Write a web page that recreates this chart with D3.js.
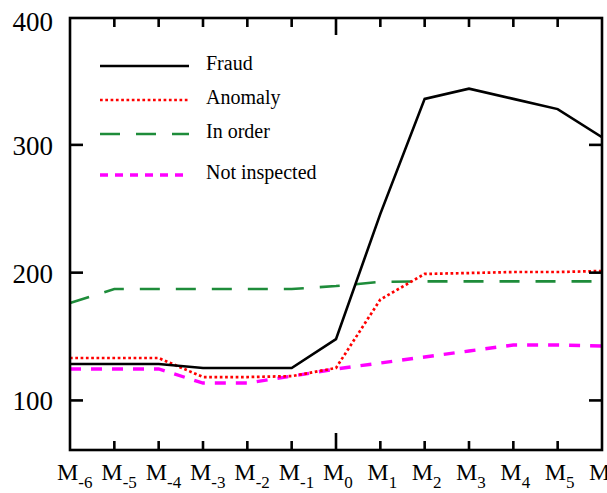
<!DOCTYPE html>
<html>
<head>
<meta charset="utf-8">
<script src="https://cdn.jsdelivr.net/npm/d3@7"></script>
<style>
  html, body { margin: 0; padding: 0; background: #fff; }
  svg { display: block; }
  text { font-family: "Liberation Serif", "Times New Roman", serif; fill: #000; }
</style>
</head>
<body>
<svg id="chart" width="607" height="493"></svg>
<script>
// ---- data ----
const monthSubs = ["-6", "-5", "-4", "-3", "-2", "-1", "0", "1", "2", "3", "4", "5", "6"];
const yTicks = [100, 200, 300, 400];
const seriesNames = ["Fraud", "Anomaly", "In order", "Not inspected"];
const fraud        = [128.5, 128.5, 128.5, 125.4, 125.4, 125.4, 148.0, 246.0, 336.0, 344.0, 336.0, 328.0, 306.0];
const anomaly      = [133.2, 133.2, 133.2, 118.3, 118.3, 119.0, 125.4, 179.0, 199.0, 199.7, 200.5, 200.5, 201.3];
const inOrder      = [176.2, 187.2, 187.2, 187.2, 187.2, 187.2, 189.5, 192.8, 193.2, 193.2, 193.2, 193.2, 193.2];
const notInspected = [124.6, 124.6, 124.6, 113.6, 113.6, 119.0, 124.6, 129.3, 134.0, 138.7, 143.4, 143.4, 142.6];

// ---- layout ----
const svg = d3.select("#chart");
const L = 70, R = 602, T = 18, B = 450;

const x = d3.scaleLinear().domain([0, monthSubs.length - 1]).range([L, R]);
const y = d3.scaleLinear().domain([61.2, 399.3]).range([B, T]);

const styles = [
  { key: "Fraud", data: fraud, color: "#000000", width: 2.6, dash: null, legDash: null },
  { key: "Anomaly", data: anomaly, color: "#ff0000", width: 2.7, dash: "2.7 2.6", legDash: "2.7 2.6" },
  { key: "In order", data: inOrder, color: "#1e8c3a", width: 2.6, dash: "20 16", legDash: "20 16" },
  { key: "Not inspected", data: notInspected, color: "#ff00ff", width: 3.4, dash: "11 10", legDash: "8 7" }
];

// clip
svg.append("defs").append("clipPath").attr("id", "plotclip")
  .append("rect").attr("x", L - 3).attr("y", T).attr("width", R - L + 3).attr("height", B - T);

// series lines
const line = d3.line().x((d, i) => x(i)).y(d => y(d));
const g = svg.append("g").attr("clip-path", "url(#plotclip)");
// draw in order: green, magenta, red, black on top
[2, 3, 1, 0].forEach(k => {
  const s = styles[k];
  g.append("path")
    .datum(s.data)
    .attr("d", line)
    .attr("fill", "none")
    .attr("stroke", s.color)
    .attr("stroke-width", s.width)
    .attr("stroke-dasharray", s.dash)
    .attr("stroke-linejoin", "miter");
});

// frame
const frame = svg.append("g").attr("stroke", "#000").attr("stroke-width", 2.6).attr("fill", "none");
frame.append("rect").attr("x", L).attr("y", T).attr("width", R - L).attr("height", B - T);

// x ticks (bottom + top mirrored, pointing inward)
const xt = d3.range(1, monthSubs.length - 1);
xt.forEach(i => {
  const len = monthSubs[i] === "0" ? 17 : 9;
  frame.append("line").attr("x1", x(i)).attr("x2", x(i)).attr("y1", B).attr("y2", B - len);
  frame.append("line").attr("x1", x(i)).attr("x2", x(i)).attr("y1", T).attr("y2", T + len);
});
// y ticks (left + right mirrored, pointing inward)
yTicks.filter(v => v < 399).forEach(v => {
  frame.append("line").attr("x1", L).attr("x2", L + 13).attr("y1", y(v)).attr("y2", y(v));
  frame.append("line").attr("x1", R).attr("x2", R - 13).attr("y1", y(v)).attr("y2", y(v));
});

// y tick labels
svg.append("g").selectAll("text").data(yTicks).join("text")
  .attr("x", 53).attr("y", d => Math.max(y(d), 21) + 10)
  .attr("text-anchor", "end")
  .attr("font-size", 27)
  .text(d => d);

// x tick labels: M with subscript
const xl = svg.append("g").selectAll("text").data(monthSubs).join("text")
  .attr("x", (d, i) => x(i) - 13)
  .attr("y", 480)
  .attr("font-size", 24);
xl.append("tspan").text("M");
xl.append("tspan").attr("dy", 8).attr("font-size", 17).text(d => d);

// legend
const legY = [66, 100, 134, 175];
const leg = svg.append("g");
styles.forEach((s, k) => {
  leg.append("line")
    .attr("x1", 100).attr("x2", 189)
    .attr("y1", legY[k]).attr("y2", legY[k])
    .attr("stroke", s.color).attr("stroke-width", s.width)
    .attr("stroke-dasharray", s.legDash);
  leg.append("text")
    .attr("x", 206).attr("y", legY[k] + 4)
    .attr("font-size", 20)
    .text(seriesNames[k]);
});
</script>
</body>
</html>
